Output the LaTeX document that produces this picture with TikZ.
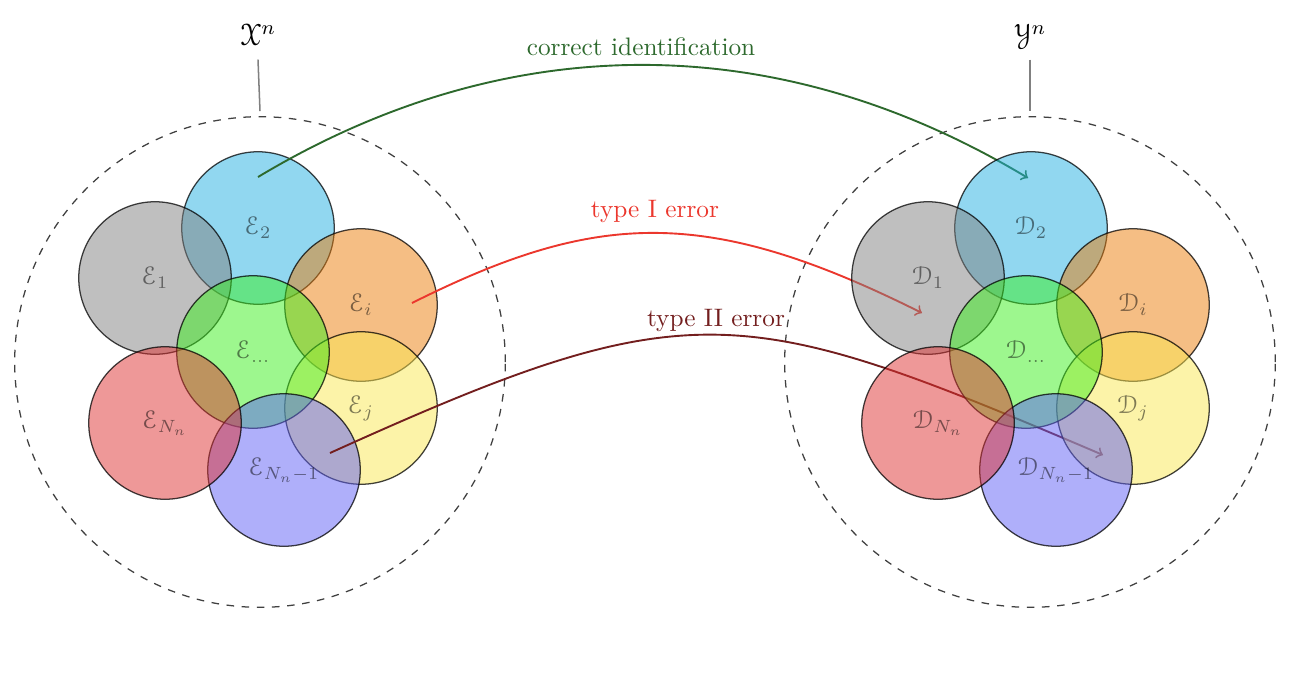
\documentclass[tikz,border=0pt]{standalone}
\usepackage{amsmath}
\usepackage[mathcal]{eucal}
\begin{document}
\begin{tikzpicture}[x=0.0139cm,y=-0.0139cm,
  set/.style={circle,draw=black,line width=0.5pt,minimum size=2.12cm,inner sep=0pt,fill opacity=0.5,draw opacity=0.75},
  big/.style={circle,draw=black!75,dashed,line width=0.5pt,minimum size=6.82cm,inner sep=0pt},
  arr/.style={->,line width=0.75pt},
  stem/.style={draw=black!50,line width=0.6pt}]
\definecolor{cgray}{RGB}{128,128,128}
\definecolor{ccyan}{RGB}{35,175,225}
\definecolor{corange}{RGB}{235,125,10}
\definecolor{cgreen}{RGB}{60,240,30}
\definecolor{cyellow}{RGB}{249,231,81}
\definecolor{cblue}{RGB}{95,95,245}
\definecolor{cred}{RGB}{221,49,49}
\definecolor{gline}{RGB}{45,105,45}
\definecolor{rline}{RGB}{235,55,45}
\definecolor{dline}{RGB}{115,30,30}
\useasboundingbox (0,0) rectangle (1294,684);
% big dashed sets
\node[big] (BL) at (260,362) {};
\node[big] (BR) at (1030,362) {};
\node[font=\large] (X) at (258,35) {$\mathcal{X}^n$};
\node[font=\large] (Y) at (1030,35) {$\mathcal{Y}^n$};
\draw[stem] (X.south) ++(0,5) -- ([yshift=0.07cm]BL.north);
\draw[stem] (Y.south) ++(0,5) -- ([yshift=0.07cm]BR.north);
% left sets
\node[set,fill=ccyan]   (E2)  at (258,228) {$\mathcal{E}_2$};
\node[set,fill=cgray]   (E1)  at (155,278) {$\mathcal{E}_1$};
\node[set,fill=corange] (Ei)  at (361,305) {$\mathcal{E}_i$};
\node[set,fill=cyellow] (Ej)  at (361,408) {$\mathcal{E}_j$};
\node[set,fill=cgreen]  (Ed)  at (253,352) {$\mathcal{E}_{\dots}$};
\node[set,fill=cblue]   (EM)  at (284,470) {$\mathcal{E}_{N_n-1}$};
\node[set,fill=cred]    (EN)  at (165,423) {$\mathcal{E}_{N_n}$};
% arrows
\coordinate (g1) at (258,177);
\coordinate (g2) at (1028,178);
\coordinate (r1) at (412,303);
\coordinate (r2) at (922,313);
\coordinate (d1) at (330,453);
\coordinate (d2) at (1103,455);
\draw[arr,gline] (g1) .. controls (508,27) and (778,28) .. (g2);
\draw[arr,rline] (r1) .. controls (596,211) and (706,205) .. (r2);
\draw[arr,dline] (d1) .. controls (690,290) and (740,300) .. (d2);
\node[text=gline] (lg) at (641,47) {correct identification};
\node[text=rline] (lr) at (655,211) {type I error};
\node[text=dline] (ld) at (716,320) {type II error};
% right sets
\node[set,fill=ccyan]   (D2)  at (1031,228) {$\mathcal{D}_2$};
\node[set,fill=cgray]   (D1)  at (928,278) {$\mathcal{D}_1$};
\node[set,fill=corange] (Di)  at (1133,305) {$\mathcal{D}_i$};
\node[set,fill=cyellow] (Dj)  at (1133,408) {$\mathcal{D}_j$};
\node[set,fill=cgreen]  (Dd)  at (1026,352) {$\mathcal{D}_{\dots}$};
\node[set,fill=cblue]   (DM)  at (1056,470) {$\mathcal{D}_{N_n-1}$};
\node[set,fill=cred]    (DN)  at (938,423) {$\mathcal{D}_{N_n}$};
\end{tikzpicture}
\end{document}
